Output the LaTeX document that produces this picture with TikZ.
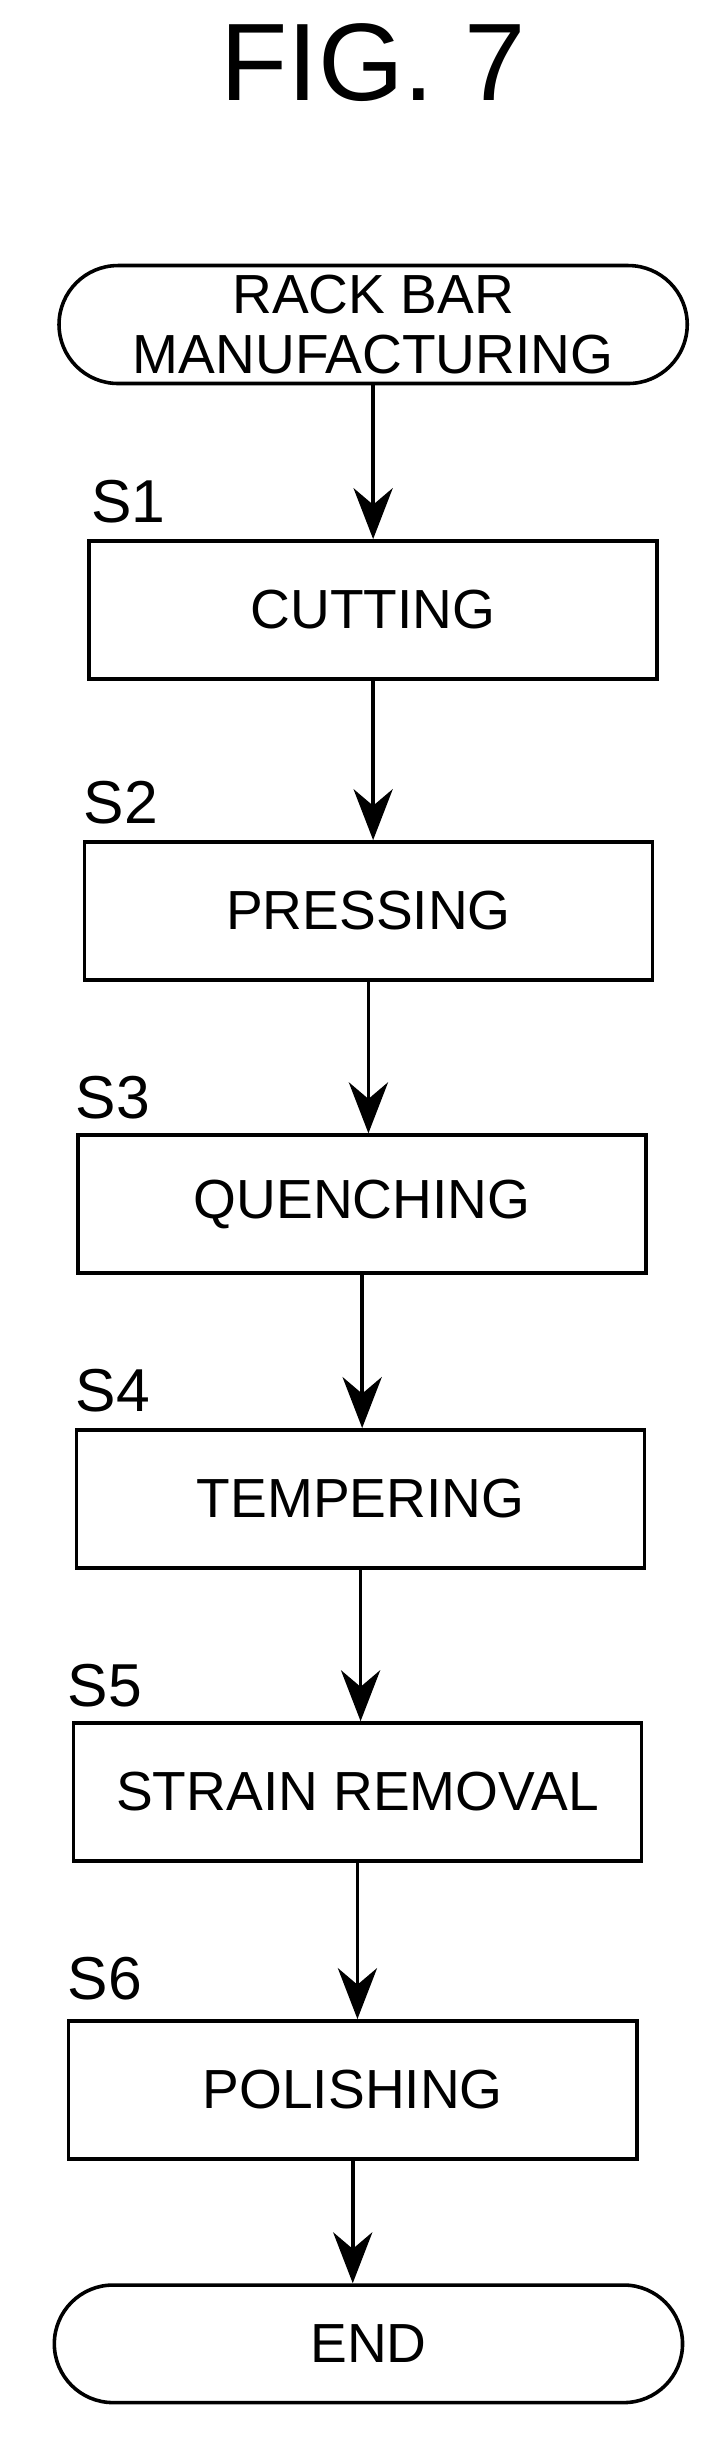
\documentclass[tikz,border=0pt]{standalone}
\usepackage{fontspec}
\setmainfont{Liberation Sans}
\usetikzlibrary{shapes.misc,arrows.meta}

\begin{document}
\begin{tikzpicture}[x=0.02cm,y=-0.02cm,
	proc/.style={draw,line width=1.3pt,minimum width=7.25cm,minimum height=1.76cm,font=\fontsize{20}{24}\selectfont},
	term/.style={draw,line width=1.3pt,rounded rectangle,minimum width=8.25cm,minimum height=1.5cm,font=\fontsize{20}{22}\selectfont,align=center},
	lbl/.style={font=\fontsize{22}{24}\selectfont},
	flow/.style={line width=1.3pt,-{Stealth[length=0.65cm,width=0.5cm]}}]
		%frame
		\useasboundingbox (0,0) rectangle (460,1557);
		
		%title
		\node[font=\fontsize{40}{44}\selectfont] (title) at (238,40) {FIG. 7};
		
		%terminals
		\node[term] (start) at (238,207) {RACK BAR\\MANUFACTURING};
		\node[term] (end) at (235,1495) {END};
		
		%steps
		\node[proc] (s1) at (238,389) {CUTTING};
		\node[proc] (s2) at (235,581) {PRESSING};
		\node[proc] (s3) at (231,768) {QUENCHING};
		\node[proc] (s4) at (230,956) {TEMPERING};
		\node[proc] (s5) at (228,1143) {STRAIN REMOVAL};
		\node[proc] (s6) at (225,1333) {POLISHING};
		
		%step labels
		\node[lbl] (l1) at (82,320) {S1};
		\node[lbl] (l2) at (77,512) {S2};
		\node[lbl] (l3) at (72,700) {S3};
		\node[lbl] (l4) at (72,887) {S4};
		\node[lbl] (l5) at (67,1075) {S5};
		\node[lbl] (l6) at (67,1262) {S6};
		
		%arrows
		\draw[flow] (start.south) -- (start.south |- s1.north);
		\draw[flow] (s1.south) -- (s1.south |- s2.north);
		\draw[flow] (s2.south) -- (s2.south |- s3.north);
		\draw[flow] (s3.south) -- (s3.south |- s4.north);
		\draw[flow] (s4.south) -- (s4.south |- s5.north);
		\draw[flow] (s5.south) -- (s5.south |- s6.north);
		\draw[flow] (s6.south) -- (s6.south |- end.north);
\end{tikzpicture}
\end{document}
